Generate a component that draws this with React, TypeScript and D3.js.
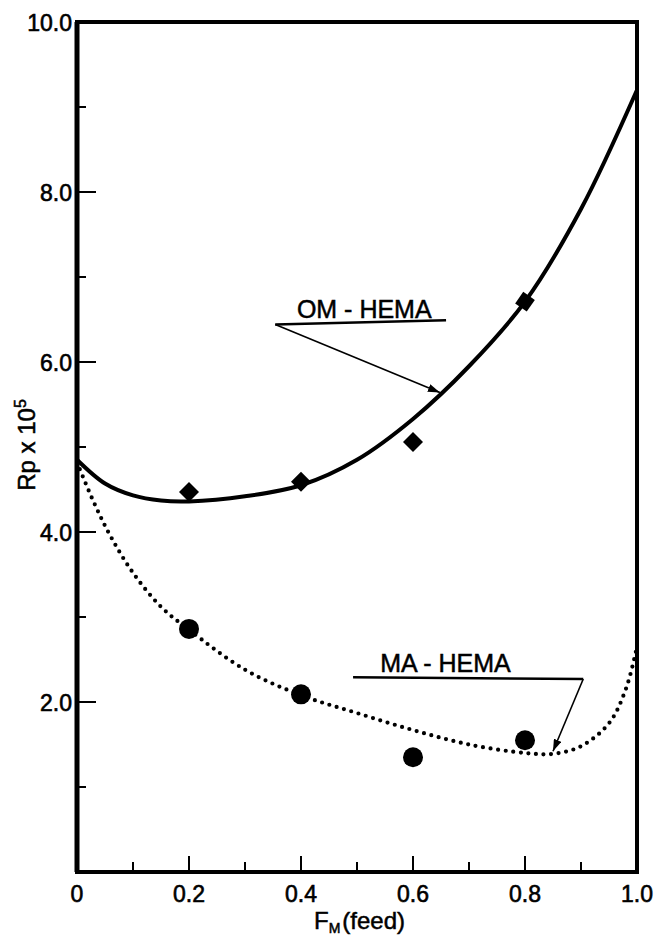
import { useEffect, useRef } from "react";
import * as d3 from "d3";

// axis ticks
const xMajor = [0, 0.2, 0.4, 0.6, 0.8, 1.0];
const xLabels = ["0", "0.2", "0.4", "0.6", "0.8", "1.0"];
const xMinor = [0.1, 0.3, 0.5, 0.7, 0.9];
const yMajor = [2, 4, 6, 8, 10];
const yLabels = ["2.0", "4.0", "6.0", "8.0", "10.0"];
const yMinor = [1, 3, 5, 7, 9];

// measured points
const feed = [0.2, 0.4, 0.6, 0.8];
const omHema = [4.47, 4.59, 5.06, 6.71];
const maHema = [2.86, 2.09, 1.35, 1.55];

// fitted curves
const omCurveX = [0, 0.05, 0.1, 0.15, 0.2, 0.3, 0.4, 0.5, 0.6, 0.7, 0.8, 0.9, 1.0];
const omCurveY = [4.85, 4.57, 4.43, 4.37, 4.36, 4.42, 4.55, 4.85, 5.33, 5.95, 6.71, 7.8, 9.2];
const maCurveX = [0, 0.03, 0.06, 0.1, 0.15, 0.2, 0.3, 0.4, 0.5, 0.6, 0.7, 0.8, 0.85, 0.9, 0.95, 0.98, 1.0];
const maCurveY = [4.82, 4.35, 3.95, 3.52, 3.12, 2.85, 2.38, 2.08, 1.87, 1.67, 1.5, 1.4, 1.39, 1.48, 1.75, 2.15, 2.65];

const font = "'Liberation Sans', Arial, Helvetica, sans-serif";

export default function App() {
    const ref = useRef<SVGSVGElement | null>(null);

    useEffect(() => {
        if (!ref.current) return;
        const width = 654;
        const height = 938;
        const left = 77, right = 637, top = 22, bottom = 872;

        const svg = d3.select(ref.current);
        svg.selectAll("*").remove();
        svg.attr("width", width).attr("height", height);

        const x = d3.scaleLinear().domain([0, 1]).range([left, right]);
        const y = d3.scaleLinear().domain([0, 10]).range([bottom, top]);

        const defs = svg.append("defs");
        defs.append("marker")
            .attr("id", "arrow")
            .attr("viewBox", "0 0 12 8")
            .attr("refX", 12).attr("refY", 4)
            .attr("markerWidth", 12).attr("markerHeight", 8)
            .attr("markerUnits", "userSpaceOnUse")
            .attr("orient", "auto")
            .append("path")
            .attr("d", "M0,0 L12,4 L0,8 Z")
            .attr("fill", "#000");

        // frame
        svg.append("rect")
            .attr("x", left).attr("y", top)
            .attr("width", right - left).attr("height", bottom - top)
            .attr("fill", "none").attr("stroke", "#000").attr("stroke-width", 4);
        svg.append("line")
            .attr("x1", left).attr("x2", left).attr("y1", top).attr("y2", bottom)
            .attr("stroke", "#000").attr("stroke-width", 5);

        // x ticks
        svg.append("g").selectAll("line").data(xMajor.slice(1, -1)).enter().append("line")
            .attr("x1", d => x(d)).attr("x2", d => x(d))
            .attr("y1", bottom).attr("y2", bottom - 16)
            .attr("stroke", "#000").attr("stroke-width", 2);
        svg.append("g").selectAll("line").data(xMinor).enter().append("line")
            .attr("x1", d => x(d)).attr("x2", d => x(d))
            .attr("y1", bottom).attr("y2", bottom - 10)
            .attr("stroke", "#000").attr("stroke-width", 2);
        svg.append("g").selectAll("text").data(xMajor).enter().append("text")
            .attr("x", d => x(d)).attr("y", 902)
            .attr("text-anchor", "middle")
            .attr("font-family", font).attr("font-size", 23)
            .attr("stroke", "#000").attr("stroke-width", 0.6)
            .text((d, i) => xLabels[i]);

        // y ticks
        svg.append("g").selectAll("line").data(yMajor.slice(0, -1)).enter().append("line")
            .attr("x1", left).attr("x2", left + 19)
            .attr("y1", d => y(d)).attr("y2", d => y(d))
            .attr("stroke", "#000").attr("stroke-width", 2);
        svg.append("g").selectAll("line").data(yMinor).enter().append("line")
            .attr("x1", left).attr("x2", left + 9)
            .attr("y1", d => y(d)).attr("y2", d => y(d))
            .attr("stroke", "#000").attr("stroke-width", 2);
        svg.append("g").selectAll("text").data(yMajor).enter().append("text")
            .attr("x", 72).attr("y", d => y(d) + 9)
            .attr("text-anchor", "end")
            .attr("font-family", font).attr("font-size", 23)
            .attr("stroke", "#000").attr("stroke-width", 0.6)
            .text((d, i) => yLabels[i]);

        // axis titles
        const xt = svg.append("text")
            .attr("x", 314).attr("y", 929)
            .attr("font-family", font).attr("font-size", 24)
            .attr("stroke", "#000").attr("stroke-width", 0.5);
        xt.append("tspan").text("F");
        xt.append("tspan").attr("dy", 4).attr("font-size", 14).text("M");
        xt.append("tspan").attr("dy", -4).attr("dx", 2).text("(feed)");

        const yt = svg.append("text")
            .attr("transform", `translate(35, 445) rotate(-90)`)
            .attr("text-anchor", "middle")
            .attr("font-family", font).attr("font-size", 24)
            .attr("stroke", "#000").attr("stroke-width", 0.5);
        yt.append("tspan").text("Rp x 10");
        yt.append("tspan").attr("dy", -9).attr("font-size", 16).text("5");

        // curves
        const line = d3.line<[number, number]>()
            .x(d => x(d[0])).y(d => y(d[1]))
            .curve(d3.curveCatmullRom.alpha(0.5));

        svg.append("path")
            .attr("d", line(omCurveX.map((v, i) => [v, omCurveY[i]] as [number, number])))
            .attr("fill", "none").attr("stroke", "#000").attr("stroke-width", 4);

        svg.append("path")
            .attr("d", line(maCurveX.map((v, i) => [v, maCurveY[i]] as [number, number])))
            .attr("fill", "none").attr("stroke", "#000").attr("stroke-width", 4.2)
            .attr("stroke-linecap", "round").attr("stroke-dasharray", "0 7.6");

        // markers
        const diamond = d3.symbol().type(d3.symbolSquare).size(200);
        svg.append("g").selectAll("path").data(feed).enter().append("path")
            .attr("d", diamond)
            .attr("transform", (d, i) => `translate(${x(d)},${y(omHema[i])}) rotate(${i === 3 ? 35 : 45})`)
            .attr("fill", "#000");
        svg.append("g").selectAll("circle").data(feed).enter().append("circle")
            .attr("cx", d => x(d)).attr("cy", (d, i) => y(maHema[i]))
            .attr("r", 10).attr("fill", "#000");

        // annotations
        const omLab = { tx: 0.513, ty: 6.52, x0: 0.354, y0: 6.44, x1: 0.659, y1: 6.49, ax: 0.648, ay: 5.64 };
        svg.append("text")
            .attr("x", x(omLab.tx)).attr("y", y(omLab.ty))
            .attr("text-anchor", "middle")
            .attr("font-family", font).attr("font-size", 25)
            .attr("stroke", "#000").attr("stroke-width", 0.5)
            .text("OM - HEMA");
        svg.append("line")
            .attr("x1", x(omLab.x0)).attr("y1", y(omLab.y0))
            .attr("x2", x(omLab.x1)).attr("y2", y(omLab.y1))
            .attr("stroke", "#000").attr("stroke-width", 2.5);
        svg.append("line")
            .attr("x1", x(omLab.x0)).attr("y1", y(omLab.y0))
            .attr("x2", x(omLab.ax)).attr("y2", y(omLab.ay))
            .attr("stroke", "#000").attr("stroke-width", 1.6)
            .attr("marker-end", "url(#arrow)");

        const maLab = { tx: 0.658, ty: 2.35, x0: 0.493, y0: 2.29, x1: 0.904, y1: 2.27, ax: 0.85, ay: 1.42 };
        svg.append("text")
            .attr("x", x(maLab.tx)).attr("y", y(maLab.ty))
            .attr("text-anchor", "middle")
            .attr("font-family", font).attr("font-size", 25)
            .attr("stroke", "#000").attr("stroke-width", 0.5)
            .text("MA - HEMA");
        svg.append("line")
            .attr("x1", x(maLab.x0)).attr("y1", y(maLab.y0))
            .attr("x2", x(maLab.x1)).attr("y2", y(maLab.y1))
            .attr("stroke", "#000").attr("stroke-width", 2.5);
        svg.append("line")
            .attr("x1", x(maLab.x1)).attr("y1", y(maLab.y1))
            .attr("x2", x(maLab.ax)).attr("y2", y(maLab.ay))
            .attr("stroke", "#000").attr("stroke-width", 1.6)
            .attr("marker-end", "url(#arrow)");
    }, []);

    return <svg ref={ref} style={{ position: "absolute", left: 0, top: 0, background: "#fff" }}></svg>;
}
